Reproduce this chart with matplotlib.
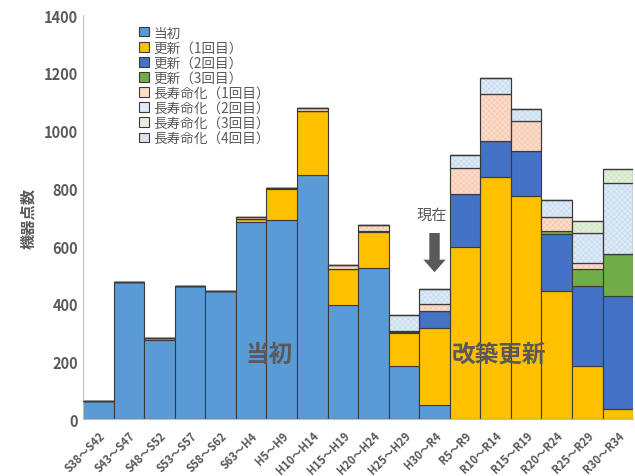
import matplotlib
matplotlib.use("Agg")
import matplotlib.pyplot as plt
import numpy as np
from matplotlib.patches import Patch

plt.rcParams['font.family'] = ['Noto Sans CJK JP', 'DejaVu Sans']
plt.rcParams['hatch.linewidth'] = 0.4

categories = ["S38～S42", "S43～S47", "S48～S52", "S53～S57", "S58～S62", "S63～H4",
              "H5～H9", "H10～H14", "H15～H19", "H20～H24", "H25～H29", "H30～R4",
              "R5～R9", "R10～R14", "R15～R19", "R20～R24", "R25～R29", "R30～R34"]

initial   = [64, 476, 275, 460, 446, 683, 692, 846, 395, 523, 183, 50, 0, 0, 0, 0, 0, 0]
renew1    = [0, 0, 5, 0, 0, 12, 105, 223, 125, 125, 115, 265, 597, 839, 775, 445, 185, 36]
renew2    = [0, 0, 0, 0, 0, 0, 3, 0, 2, 4, 5, 60, 185, 124, 154, 198, 275, 391]
renew3    = [0, 0, 0, 0, 0, 0, 0, 0, 0, 0, 0, 0, 0, 0, 0, 9, 60, 147]
extend1   = [0, 0, 0, 0, 0, 6, 0, 11, 11, 20, 4, 23, 89, 165, 106, 48, 23, 0]
extend2   = [0, 0, 0, 0, 0, 0, 0, 0, 0, 0, 53, 52, 46, 56, 40, 59, 101, 245]
extend3   = [0, 0, 0, 0, 0, 0, 0, 0, 0, 0, 0, 0, 0, 0, 0, 0, 43, 49]
extend4   = [0, 0, 0, 0, 0, 0, 0, 0, 0, 0, 0, 0, 0, 0, 0, 0, 0, 0]

series = [
    ("当初", initial, "#5B9BD5", None, None),
    ("更新（1回目）", renew1, "#FFC000", None, None),
    ("更新（2回目）", renew2, "#4472C4", None, None),
    ("更新（3回目）", renew3, "#70AD47", None, None),
    ("長寿命化（1回目）", extend1, "#FBDCCB", "#F5C2A5", "xxxxxx"),
    ("長寿命化（2回目）", extend2, "#DEEAF6", "#BFD5EE", "xxxxxx"),
    ("長寿命化（3回目）", extend3, "#E2F0D9", "#C9E2BA", "xxxxxx"),
    ("長寿命化（4回目）", extend4, "#E4DFEC", "#C3B8DA", "xxxxxx"),
]

fig = plt.figure(figsize=(6.35, 4.77), dpi=100)
ax = fig.add_axes([0.131, 0.119, 0.866, 0.847])

x = np.arange(len(categories))
bottom = np.zeros(len(categories))
handles = []
edge = "#3A3A3A"
for name, vals, col, hcol, hatch in series:
    v = np.array(vals, dtype=float)
    ax.bar(x, v, width=1.0, bottom=bottom, color=col, edgecolor=edge, linewidth=0.8, zorder=2)
    if hatch:
        ax.bar(x, v, width=1.0, bottom=bottom, color="none", edgecolor=hcol, linewidth=0,
               hatch=hatch, zorder=2.5)
        ax.bar(x, v, width=1.0, bottom=bottom, color="none", edgecolor=edge, linewidth=0.8, zorder=2.6)
    bottom += v
    handles.append(Patch(facecolor=col, edgecolor=edge, linewidth=0.8, label=name))

ax.set_xlim(-0.5, len(categories) - 0.5)
ax.set_ylim(0, 1400)
ax.set_yticks(np.arange(0, 1401, 200))
ax.tick_params(axis='y', length=0, labelsize=10.5, labelcolor="#595959")
for t in ax.get_yticklabels():
    t.set_fontweight("bold")
ax.set_xticks(x)
ax.set_xticklabels(categories, rotation=45, ha="right", rotation_mode="anchor",
                   fontsize=8, color="#595959", fontweight="bold")
ax.tick_params(axis='x', length=0, pad=7)
for s in ["top", "right"]:
    ax.spines[s].set_visible(False)
ax.spines["left"].set_color("#BFBFBF")
ax.spines["bottom"].set_color("#BFBFBF")
ax.set_ylabel("機器点数", fontsize=11, color="#595959", fontweight="bold", labelpad=6)

leg = ax.legend(handles=handles, loc="upper left", bbox_to_anchor=(0.08, 1.005),
                frameon=False, fontsize=9.8, handlelength=0.7, handleheight=0.7,
                handletextpad=0.3, labelspacing=0.08, labelcolor="#595959")

ax.text(5.6, 226, "当初", fontsize=17, fontweight="bold", color="#595959",
        ha="center", va="center", zorder=5)
ax.text(13.1, 226, "改築更新", fontsize=17, fontweight="bold", color="#595959",
        ha="center", va="center", zorder=5)
ax.text(10.9, 680, "現在", fontsize=11, color="#595959", ha="center", va="bottom", zorder=5)
ax.annotate("", xy=(11, 500), xytext=(11, 655),
            arrowprops=dict(arrowstyle="simple,head_width=1.6,head_length=0.9,tail_width=0.75",
                            color="#595959", lw=0), zorder=5)

fig.savefig("out.png", dpi=100)
